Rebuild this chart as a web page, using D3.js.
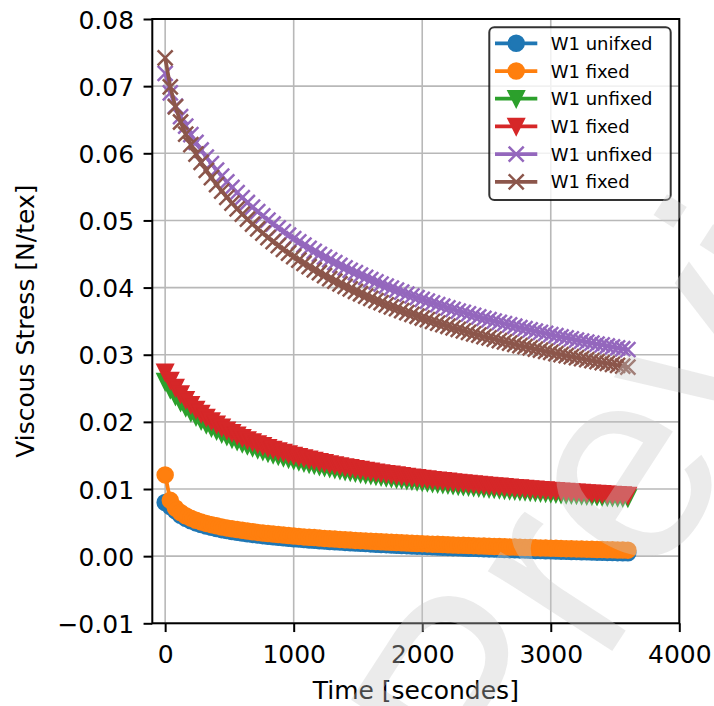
<!DOCTYPE html>
<html>
<head>
<meta charset="utf-8">
<script src="https://cdn.jsdelivr.net/npm/d3@7"></script>
<style>
  html, body { margin: 0; padding: 0; background: #fff; }
  svg { display: block; font-family: "DejaVu Sans", sans-serif; }
</style>
</head>
<body>
<svg id="chart" width="714" height="706"></svg>
<script>
// Sampling times (seconds)
const times = [0,40,80,120,160,200,240,280,320,360,400,440,480,520,560,600,640,680,720,760,
  800,840,880,920,960,1000,1040,1080,1120,1160,1200,1240,1280,1320,1360,1400,1440,1480,1520,1560,
  1600,1640,1680,1720,1760,1800,1840,1880,1920,1960,2000,2040,2080,2120,2160,2200,2240,2280,2320,2360,
  2400,2440,2480,2520,2560,2600,2640,2680,2720,2760,2800,2840,2880,2920,2960,3000,3040,3080,3120,3160,
  3200,3240,3280,3320,3360,3400,3440,3480,3520,3560,3600];

// Viscous stress [N/tex], one array per curve
const circleUnfixed = [0.0080,0.0074,0.00677,0.00610,0.00562,0.00526,0.00495,0.00470,0.00448,0.00429,
  0.00411,0.00395,0.00381,0.00368,0.00356,0.00344,0.00334,0.00324,0.00314,0.00305,
  0.00297,0.00289,0.00281,0.00274,0.00267,0.00260,0.00254,0.00247,0.00241,0.00236,
  0.00230,0.00224,0.00219,0.00214,0.00209,0.00205,0.00200,0.00195,0.00191,0.00187,
  0.00182,0.00178,0.00174,0.00171,0.00167,0.00163,0.00159,0.00156,0.00152,0.00149,
  0.00146,0.00142,0.00139,0.00136,0.00133,0.00130,0.00127,0.00124,0.00121,0.00118,
  0.00116,0.00113,0.00110,0.00108,0.00105,0.00102,0.00100,0.00097,0.00095,0.00093,
  0.00090,0.00088,0.00085,0.00083,0.00081,0.00079,0.00077,0.00074,0.00072,0.00070,
  0.00068,0.00066,0.00064,0.00062,0.00060,0.00058,0.00056,0.00054,0.00052,0.00050,
  0.00049];

const circleFixed = [0.0121,0.00831,0.00717,0.00650,0.00602,0.00566,0.00535,0.00510,0.00488,0.00469,
  0.00451,0.00435,0.00421,0.00408,0.00396,0.00384,0.00374,0.00364,0.00354,0.00345,
  0.00337,0.00329,0.00321,0.00314,0.00307,0.00300,0.00294,0.00287,0.00281,0.00276,
  0.00270,0.00264,0.00259,0.00254,0.00249,0.00245,0.00240,0.00235,0.00231,0.00227,
  0.00222,0.00218,0.00214,0.00211,0.00207,0.00203,0.00199,0.00196,0.00192,0.00189,
  0.00186,0.00182,0.00179,0.00176,0.00173,0.00170,0.00167,0.00164,0.00161,0.00158,
  0.00156,0.00153,0.00150,0.00147,0.00145,0.00142,0.00140,0.00137,0.00135,0.00132,
  0.00130,0.00128,0.00125,0.00123,0.00121,0.00119,0.00117,0.00114,0.00112,0.00110,
  0.00108,0.00106,0.00104,0.00102,0.00100,0.00098,0.00096,0.00094,0.00092,0.00090,
  0.00089];

const triangleUnfixed = [0.02600,0.02484,0.02383,0.02294,0.02214,0.02142,0.02077,0.02018,0.01963,0.01913,
  0.01867,0.01824,0.01785,0.01747,0.01712,0.01678,0.01647,0.01618,0.01590,0.01564,
  0.01538,0.01514,0.01492,0.01470,0.01449,0.01429,0.01410,0.01392,0.01374,0.01357,
  0.01340,0.01325,0.01310,0.01295,0.01281,0.01267,0.01254,0.01241,0.01229,0.01217,
  0.01205,0.01193,0.01182,0.01172,0.01161,0.01151,0.01141,0.01132,0.01122,0.01113,
  0.01104,0.01096,0.01087,0.01079,0.01071,0.01063,0.01055,0.01047,0.01040,0.01033,
  0.01026,0.01019,0.01012,0.01005,0.00999,0.00992,0.00986,0.00980,0.00974,0.00968,
  0.00962,0.00957,0.00951,0.00946,0.00940,0.00935,0.00930,0.00924,0.00919,0.00914,
  0.00910,0.00905,0.00900,0.00896,0.00891,0.00886,0.00882,0.00878,0.00873,0.00869,
  0.00865];

const triangleFixed = [0.02740,0.02617,0.02510,0.02415,0.02331,0.02254,0.02186,0.02123,0.02065,0.02012,
  0.01963,0.01918,0.01876,0.01837,0.01799,0.01763,0.01731,0.01700,0.01671,0.01643,
  0.01615,0.01590,0.01567,0.01544,0.01521,0.01500,0.01480,0.01461,0.01442,0.01424,
  0.01407,0.01390,0.01374,0.01359,0.01344,0.01329,0.01315,0.01302,0.01289,0.01276,
  0.01263,0.01251,0.01240,0.01229,0.01218,0.01207,0.01196,0.01186,0.01177,0.01167,
  0.01157,0.01148,0.01139,0.01131,0.01122,0.01114,0.01105,0.01098,0.01090,0.01082,
  0.01075,0.01067,0.01060,0.01053,0.01046,0.01040,0.01033,0.01027,0.01020,0.01014,
  0.01008,0.01002,0.00996,0.00990,0.00984,0.00979,0.00973,0.00968,0.00963,0.00957,
  0.00952,0.00947,0.00942,0.00938,0.00933,0.00928,0.00923,0.00919,0.00914,0.00910,
  0.00905];

const crossUnfixed = [0.07190,0.06901,0.06704,0.06545,0.06406,0.06279,0.06161,0.06049,0.05944,0.05845,
  0.05750,0.05661,0.05575,0.05493,0.05414,0.05338,0.05267,0.05198,0.05131,0.05067,
  0.05006,0.04947,0.04890,0.04835,0.04781,0.04730,0.04680,0.04632,0.04585,0.04540,
  0.04496,0.04453,0.04412,0.04371,0.04332,0.04294,0.04257,0.04221,0.04186,0.04151,
  0.04118,0.04085,0.04053,0.04022,0.03992,0.03962,0.03933,0.03904,0.03877,0.03849,
  0.03823,0.03797,0.03771,0.03746,0.03722,0.03698,0.03674,0.03651,0.03629,0.03607,
  0.03585,0.03563,0.03542,0.03522,0.03502,0.03482,0.03462,0.03443,0.03424,0.03405,
  0.03387,0.03369,0.03351,0.03334,0.03317,0.03300,0.03283,0.03267,0.03251,0.03235,
  0.03219,0.03204,0.03189,0.03174,0.03159,0.03145,0.03130,0.03116,0.03102,0.03089,
  0.03075];

const crossFixed = [0.07420,0.06989,0.06691,0.06466,0.06284,0.06128,0.05989,0.05863,0.05746,0.05636,
  0.05533,0.05437,0.05345,0.05257,0.05173,0.05093,0.05018,0.04946,0.04876,0.04810,
  0.04745,0.04684,0.04625,0.04568,0.04513,0.04460,0.04409,0.04359,0.04311,0.04265,
  0.04221,0.04177,0.04135,0.04095,0.04055,0.04017,0.03979,0.03943,0.03908,0.03873,
  0.03840,0.03807,0.03775,0.03744,0.03714,0.03685,0.03656,0.03628,0.03600,0.03573,
  0.03547,0.03521,0.03496,0.03471,0.03447,0.03424,0.03400,0.03378,0.03356,0.03334,
  0.03312,0.03291,0.03271,0.03251,0.03231,0.03211,0.03192,0.03173,0.03155,0.03137,
  0.03119,0.03102,0.03085,0.03068,0.03051,0.03035,0.03018,0.03003,0.02987,0.02972,
  0.02957,0.02942,0.02927,0.02912,0.02898,0.02884,0.02870,0.02857,0.02843,0.02830,
  0.02817];

const seriesLabels = ["W1 unifxed", "W1 fixed", "W1 unfixed", "W1 fixed", "W1 unfixed", "W1 fixed"];
const seriesColors = ["#1f77b4", "#ff7f0e", "#2ca02c", "#d62728", "#9467bd", "#8c564b"];
const seriesMarkers = ["circle", "circle", "triangle", "triangle", "cross", "cross"];
const seriesValues = [circleUnfixed, circleFixed, triangleUnfixed, triangleFixed, crossUnfixed, crossFixed];

const xTicks = [0, 1000, 2000, 3000, 4000];
const xTickLabels = ["0", "1000", "2000", "3000", "4000"];
const yTicks = [-0.01, 0, 0.01, 0.02, 0.03, 0.04, 0.05, 0.06, 0.07, 0.08];
const yTickLabels = ["\u22120.01", "0.00", "0.01", "0.02", "0.03", "0.04", "0.05", "0.06", "0.07", "0.08"];

const xTitle = "Time [secondes]";
const yTitle = "Viscous Stress [N/tex]";
const watermarkText = "Preview";

// ---- layout ----
const plot = { left: 152.3, right: 679.3, top: 19, bottom: 623.3 };
const fontSize = 25;
const tickLen = 8.75;

const svg = d3.select("#chart");
svg.append("rect").attr("width", 714).attr("height", 706).attr("fill", "#fff");

const x = d3.scaleLinear().domain([-100, 4000]).range([plot.left, plot.right]);
const y = d3.scaleLinear().domain([-0.01, 0.08]).range([plot.bottom, plot.top]);

// grid
const grid = svg.append("g").attr("stroke", "#b8b8b8").attr("stroke-width", 1.6);
grid.selectAll("line.gx").data(xTicks).join("line")
  .attr("x1", d => x(d)).attr("x2", d => x(d))
  .attr("y1", plot.top).attr("y2", plot.bottom);
grid.selectAll("line.gy").data(yTicks).join("line").attr("class", "gy")
  .attr("x1", plot.left).attr("x2", plot.right)
  .attr("y1", d => y(d)).attr("y2", d => y(d));

// series: line, then markers
svg.append("clipPath").attr("id", "plotClip")
  .append("rect").attr("x", plot.left).attr("y", plot.top)
  .attr("width", plot.right - plot.left).attr("height", plot.bottom - plot.top);

function markerPath(type) {
  const s = 7.5;
  if (type === "circle") return `M${s},0A${s},${s} 0 1,1 ${-s},0A${s},${s} 0 1,1 ${s},0Z`;
  if (type === "triangle") return `M0,${s}L${-s},${-s}L${s},${-s}Z`;
  return `M${-s},${-s}L${s},${s}M${-s},${s}L${s},${-s}`;
}

const line = d3.line().x(d => x(d.t)).y(d => y(d.v));
const dataLayer = svg.append("g");

seriesValues.forEach((vals, i) => {
  const pts = times.map((t, j) => ({ t: t, v: vals[j] }));
  const g = dataLayer.append("g");
  g.append("path").datum(pts)
    .attr("d", line)
    .attr("fill", "none")
    .attr("stroke", seriesColors[i])
    .attr("stroke-width", 3.75)
    .attr("stroke-linejoin", "round")
    .attr("clip-path", "url(#plotClip)");
  const type = seriesMarkers[i];
  g.selectAll("path.mk").data(pts).join("path")
    .attr("class", "mk")
    .attr("transform", d => `translate(${x(d.t)},${y(d.v)})`)
    .attr("d", markerPath(type))
    .attr("fill", type === "cross" ? "none" : seriesColors[i])
    .attr("stroke", seriesColors[i])
    .attr("stroke-width", 2.5)
    .attr("stroke-linejoin", "miter");
});

// axes
const xAxis = d3.axisBottom(x).tickValues(xTicks)
  .tickFormat((d, i) => xTickLabels[i]).tickSize(tickLen).tickPadding(13.2);
const yAxis = d3.axisLeft(y).tickValues(yTicks)
  .tickFormat((d, i) => yTickLabels[i]).tickSize(tickLen).tickPadding(9.5);

const gx = svg.append("g").attr("transform", `translate(0,${plot.bottom})`).call(xAxis);
const gy = svg.append("g").attr("transform", `translate(${plot.left},0)`).call(yAxis);
[gx, gy].forEach(g => {
  g.select(".domain").remove();
  g.selectAll(".tick line").attr("stroke", "#000").attr("stroke-width", 2);
  g.selectAll(".tick text").attr("fill", "#000")
    .style("font-family", "'DejaVu Sans', sans-serif").style("font-size", fontSize + "px");
});
gy.selectAll(".tick text").attr("dy", "0.364em");

// spines
svg.append("rect")
  .attr("x", plot.left).attr("y", plot.top)
  .attr("width", plot.right - plot.left).attr("height", plot.bottom - plot.top)
  .attr("fill", "none").attr("stroke", "#000").attr("stroke-width", 2);

// axis titles
svg.append("text")
  .attr("x", (plot.left + plot.right) / 2).attr("y", 699)
  .attr("text-anchor", "middle").style("font-size", fontSize + "px")
  .text(xTitle);
svg.append("text")
  .attr("transform", `translate(34,${(plot.top + plot.bottom) / 2}) rotate(-90)`)
  .attr("text-anchor", "middle").style("font-size", fontSize + "px")
  .text(yTitle);

// legend
const legend = svg.append("g");
legend.append("rect")
  .attr("x", 489.3).attr("y", 27.3).attr("width", 181.4).attr("height", 172.7)
  .attr("rx", 5).attr("ry", 5)
  .attr("fill", "#fff").attr("fill-opacity", 0.8)
  .attr("stroke", "#000").attr("stroke-opacity", 0.8).attr("stroke-width", 2);
seriesLabels.forEach((lab, i) => {
  const cy = 43.3 + i * 27.7;
  const row = legend.append("g");
  row.append("line").attr("x1", 495).attr("x2", 537.3).attr("y1", cy).attr("y2", cy)
    .attr("stroke", seriesColors[i]).attr("stroke-width", 3.75);
  const type = seriesMarkers[i];
  row.append("path").attr("transform", `translate(516.2,${cy})`)
    .attr("d", markerPath(type))
    .attr("fill", type === "cross" ? "none" : seriesColors[i])
    .attr("stroke", seriesColors[i]).attr("stroke-width", 2.5);
  row.append("text").attr("x", 550.7).attr("y", cy + 6.5)
    .style("font-size", "18px").text(lab);
});

// faint watermark lettering
svg.append("text")
  .attr("transform", "translate(500,824) rotate(-57)")
  .style("font-family", "'Liberation Sans', sans-serif")
  .style("font-size", "280px")
  .attr("fill", "#c8c8c8").attr("fill-opacity", 0.36)
  .text(watermarkText);
</script>
</body>
</html>
